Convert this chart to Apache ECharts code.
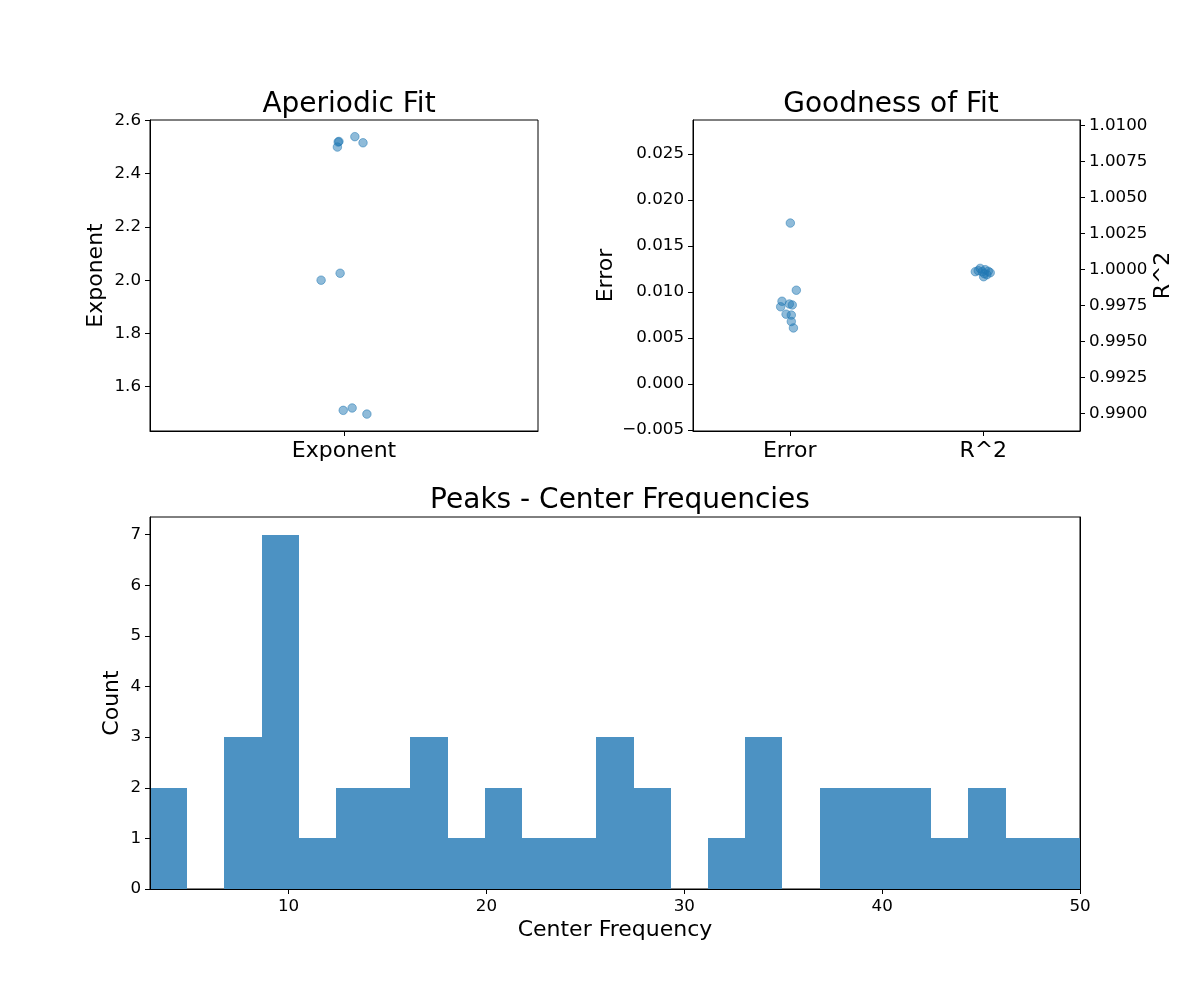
<!DOCTYPE html>
<html>
<head>
<meta charset="utf-8">
<script src="https://cdn.jsdelivr.net/npm/echarts@6/dist/echarts.min.js"></script>
<style>html,body{margin:0;padding:0;background:#fff}#c{width:1200px;height:1000px}</style>
</head>
<body>
<div id="c"></div>
<script>
// ---- Data ----
const apCategories = ['Exponent'];
const expJitter = [-0.015, -0.013, -0.017, 0.028, 0.049, -0.059, -0.010, -0.002, 0.021, 0.059];
const expValues = [2.519, 2.521, 2.500, 2.539, 2.516, 2.000, 2.026, 1.511, 1.520, 1.497];
const apYTicks = [1.6, 1.8, 2.0, 2.2, 2.4, 2.6];

const gofCategories = ['Error', 'R^2'];
const errJitter = [0.003, 0.034, -0.040, -0.047, -0.002, 0.013, -0.019, 0.008, 0.008, 0.019];
const errValues = [0.0175, 0.0102, 0.0090, 0.0084, 0.0087, 0.0086, 0.0076, 0.0075, 0.0068, 0.0061];
const r2Jitter = [-0.041, -0.016, 0.010, 0.036, 0.002, 0.019, -0.026, -0.005, 0.026, 0.005];
const r2Values = [0.99984, 1.00007, 0.99998, 0.99977, 0.99949, 0.99963, 0.99991, 0.99984, 0.99987, 0.99970];
const errTicks = [-0.005, 0.000, 0.005, 0.010, 0.015, 0.020, 0.025];
const r2Ticks = [0.9900, 0.9925, 0.9950, 0.9975, 1.0000, 1.0025, 1.0050, 1.0075, 1.0100];

const histRange = [3, 50];
const histCounts = [2, 0, 3, 7, 1, 2, 2, 3, 1, 2, 1, 1, 3, 2, 0, 1, 3, 0, 2, 2, 2, 1, 2, 1, 1];
const histXTicks = [10, 20, 30, 40, 50];
const histYTicks = [0, 1, 2, 3, 4, 5, 6, 7];

// ---- Build ----
const FONT = 'DejaVu Sans';
const binW = (histRange[1] - histRange[0]) / histCounts.length;
const histData = histCounts.map((c, i) => [histRange[0] + i * binW, histRange[0] + (i + 1) * binW, c]);
const minus = s => s.replace('-', '\u2212');

function axisBase(extra) {
  return Object.assign({
    z: 10,
    axisLine: { show: true, onZero: false, lineStyle: { color: '#000', width: 1 } },
    splitLine: { show: false },
    nameTextStyle: { fontSize: 22, color: '#000', fontFamily: FONT },
    nameLocation: 'middle'
  }, extra);
}
function ticks(vals, fmt, size, show) {
  return {
    axisTick: { show: true, customValues: vals, length: 5, lineStyle: { color: '#000' } },
    axisLabel: { show: show !== false, customValues: vals, formatter: fmt, fontSize: size, color: '#000', fontFamily: FONT, margin: 9 }
  };
}
const dot = { color: 'rgba(31,119,180,0.5)', opacity: 1, borderColor: 'rgba(31,119,180,0.5)', borderWidth: 1 };

const chart = echarts.init(document.getElementById('c'), null, { renderer: 'canvas' });
const titleStyle = { fontSize: 28, fontWeight: 'normal', color: '#000', fontFamily: FONT };
chart.setOption({
  animation: false,
  backgroundColor: '#fff',
  textStyle: { fontFamily: FONT },
  title: [
    { text: 'Aperiodic Fit', left: 344, top: 86, textAlign: 'center', textStyle: titleStyle },
    { text: 'Goodness of Fit', left: 886, top: 86, textAlign: 'center', textStyle: titleStyle },
    { text: 'Peaks - Center Frequencies', left: 615, top: 482, textAlign: 'center', textStyle: titleStyle }
  ],
  grid: [
    { left: 150, top: 120, width: 388, height: 311, show: true, borderColor: '#000', borderWidth: 1 },
    { left: 693, top: 120, width: 387, height: 311, show: true, borderColor: '#000', borderWidth: 1 },
    { left: 150, top: 517, width: 930, height: 372, show: true, borderColor: '#000', borderWidth: 1 }
  ],
  xAxis: [
    axisBase(Object.assign({ gridIndex: 0, type: 'value', min: -0.5, max: 0.5 },
      ticks([0], v => apCategories[Math.round(v)], 22))),
    axisBase(Object.assign({ gridIndex: 1, type: 'value', min: -0.5, max: 1.5 },
      ticks([0, 1], v => gofCategories[Math.round(v)], 22))),
    axisBase(Object.assign({ gridIndex: 2, type: 'value', min: histRange[0], max: histRange[1],
      name: 'Center Frequency', nameGap: 30 },
      ticks(histXTicks, v => String(v), 16.7)))
  ],
  yAxis: [
    axisBase(Object.assign({ gridIndex: 0, type: 'value', min: 1.4335, max: 2.6016,
      name: 'Exponent', nameGap: 43 },
      ticks(apYTicks, v => v.toFixed(1), 16.7))),
    axisBase(Object.assign({ gridIndex: 1, type: 'value', min: -0.0051, max: 0.0287,
      name: 'Error', nameGap: 76 },
      ticks(errTicks, v => minus(v.toFixed(3)), 16.7))),
    axisBase(Object.assign({ gridIndex: 1, type: 'value', position: 'right', min: 0.98877, max: 1.01038,
      name: 'R^2', nameGap: 72, nameRotate: 90 },
      ticks(r2Ticks, v => v.toFixed(4), 16.7))),
    axisBase(Object.assign({ gridIndex: 2, type: 'value', min: 0, max: 7.35,
      name: 'Count', nameGap: 27, nameMoveOverlap: false },
      ticks(histYTicks, v => String(v), 16.7))),
    axisBase({ gridIndex: 2, type: 'value', position: 'right', min: 0, max: 7.35,
      axisTick: { show: false }, axisLabel: { show: false } })
  ],
  series: [
    { type: 'scatter', xAxisIndex: 0, yAxisIndex: 0, symbolSize: 8.5, itemStyle: dot,
      data: expJitter.map((j, i) => [0 + j, expValues[i]]) },
    { type: 'scatter', xAxisIndex: 1, yAxisIndex: 1, symbolSize: 8.5, itemStyle: dot,
      data: errJitter.map((j, i) => [0 + j, errValues[i]]) },
    { type: 'scatter', xAxisIndex: 1, yAxisIndex: 2, symbolSize: 8.5, itemStyle: dot,
      data: r2Jitter.map((j, i) => [1 + j, r2Values[i]]) },
    { type: 'custom', xAxisIndex: 2, yAxisIndex: 3,
      encode: { x: [0, 1], y: 2 },
      data: histData,
      renderItem: function (params, api) {
        const c = api.value(2);
        if (!c) return null;
        const p0 = api.coord([api.value(0), c]);
        const p1 = api.coord([api.value(1), 0]);
        const x0 = Math.round(p0[0]), x1 = Math.round(p1[0]);
        const y0 = Math.round(p0[1]), y1 = Math.round(p1[1]);
        return { type: 'rect', shape: { x: x0, y: y0, width: x1 - x0, height: y1 - y0 },
          style: { fill: '#4c92c3' } };
      } }
  ]
});
</script>
</body>
</html>
